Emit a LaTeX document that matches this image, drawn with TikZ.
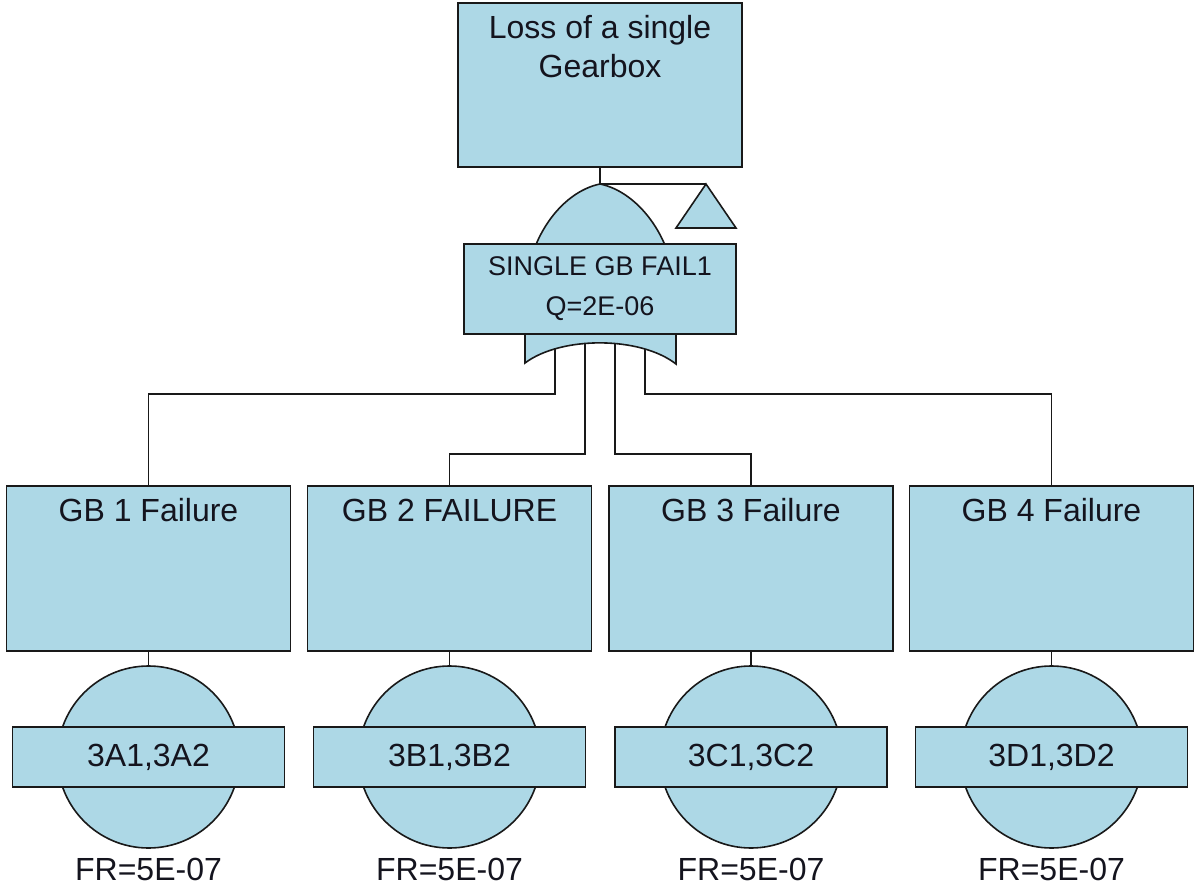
\documentclass[tikz,border=0pt]{standalone}
\usepackage{fontspec}
\setmainfont{Liberation Sans}
\usetikzlibrary{calc}
\pgfdeclarelayer{background}
\pgfsetlayers{background,main}
\definecolor{ftfill}{RGB}{173,216,230}
\definecolor{fttext}{RGB}{20,20,30}
\tikzset{
  ln/.style={draw=black!90, line width=1.6pt},
  boxst/.style={ln, fill=ftfill, rectangle, inner sep=0pt},
  bigtxt/.style={text=fttext, font=\fontsize{32}{39}\selectfont, inner sep=0pt, align=center},
  gatetxt/.style={text=fttext, font=\fontsize{27}{40}\selectfont, inner sep=0pt, align=center},
  gbbox/.style={boxst, minimum width=284pt, minimum height=165pt},
  evbox/.style={boxst, minimum width=272pt, minimum height=60pt, text=fttext, font=\fontsize{32}{39}\selectfont},
  circ/.style={ln, fill=ftfill, circle, minimum size=182pt, inner sep=0pt},
  shapest/.style={ln, fill=ftfill, line join=miter}
}
\begin{document}
\begin{tikzpicture}[x=1pt, y=-1pt]
\useasboundingbox (0,0) rectangle (1195,891);

% top event
\node[boxst, minimum width=284pt, minimum height=164pt] (top) at (600,85) {};
\node[bigtxt] (toptxt) at (600,47) {Loss of a single\\Gearbox};

% OR gate shape
\coordinate (gapex) at (600,184);
\coordinate (triapex) at (706,184);
\draw[shapest] (525,363) -- (525,300) .. controls (525,240) and (561,192) .. (gapex)
  .. controls (639,192) and (676,240) .. (676,300) -- (676,364)
  .. controls (640,336) and (561,336) .. (525,363) -- cycle;
% transfer triangle
\draw[shapest] (triapex) -- (736,228) -- (676,228) -- cycle;

% gate box
\node[boxst, minimum width=272pt, minimum height=90pt] (gbox) at (600,289) {};
\node[gatetxt] (gtxt) at (600,289) {SINGLE GB FAIL1\\Q=2E-06};

% gate outputs
\coordinate (g1) at (555,345);
\coordinate (g2) at (585,340);
\coordinate (g3) at (615,340);
\coordinate (g4) at (645,345);

% intermediate events
\foreach \i/\x/\t/\e in {1/148.5/GB 1 Failure/{3A1,3A2}, 2/449.5/GB 2 FAILURE/{3B1,3B2}, 3/751/GB 3 Failure/{3C1,3C2}, 4/1051.5/GB 4 Failure/{3D1,3D2}}{
  \node[gbbox] (gb\i) at (\x,568.5) {};
  \node[bigtxt] (gbt\i) at (\x,510) {\t};
  \node[circ] (c\i) at (\x,757) {};
  \node[evbox] (ev\i) at (\x,757) {\e};
  \node[bigtxt] (fr\i) at (\x,869) {FR=5E-07};
}

\begin{pgfonlayer}{background}
  \draw[ln] (top.south) -- (gapex) -- (triapex);
  \draw[ln] (g1) |- ([yshift=91pt]gb1.north) -- (gb1.north);
  \draw[ln] (g2) |- ([yshift=31pt]gb2.north) -- (gb2.north);
  \draw[ln] (g3) |- ([yshift=31pt]gb3.north) -- (gb3.north);
  \draw[ln] (g4) |- ([yshift=91pt]gb4.north) -- (gb4.north);
  \foreach \i in {1,2,3,4}{
    \draw[ln] (gb\i.south) -- (c\i.north);
  }
\end{pgfonlayer}
\end{tikzpicture}
\end{document}
